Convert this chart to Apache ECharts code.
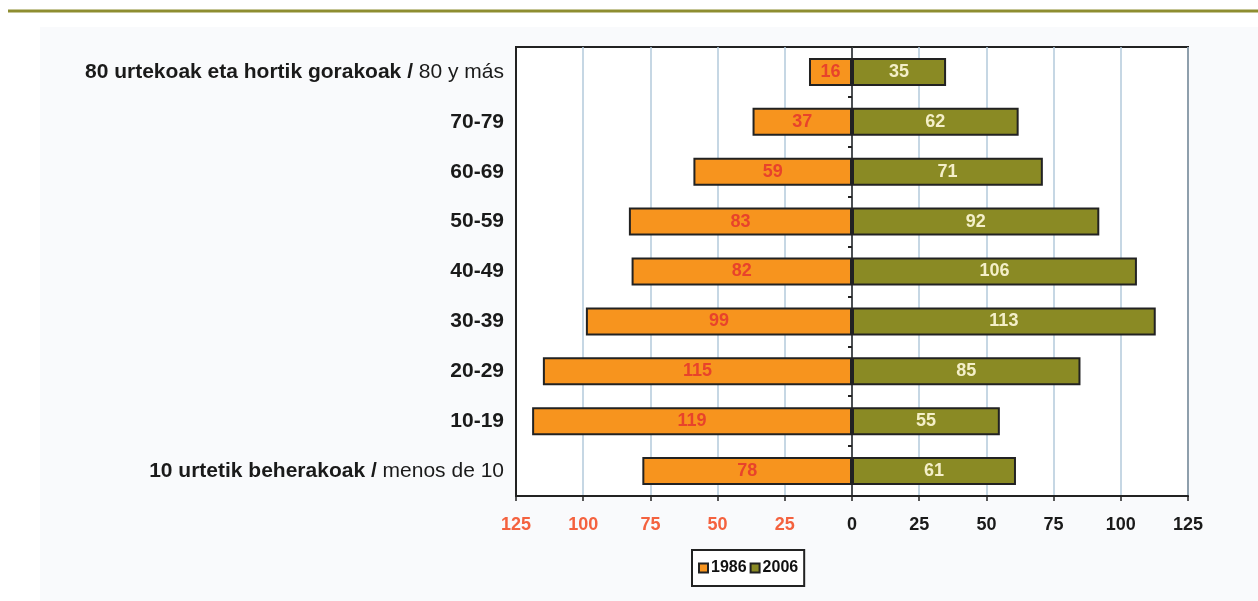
<!DOCTYPE html>
<html>
<head>
<meta charset="utf-8">
<style>html,body{margin:0;padding:0;background:#fff;}#c{width:1258px;height:601px;}</style>
<script src="https://cdn.jsdelivr.net/npm/echarts@6/dist/echarts.min.js"></script>
</head>
<body>
<div id="c"></div>
<script>
// categories from bottom to top
var catBold = ['10 urtetik beherakoak /', '10-19', '20-29', '30-39', '40-49', '50-59', '60-69', '70-79', '80 urtekoak eta hortik gorakoak /'];
var catNormal = ['menos de 10', '', '', '', '', '', '', '', '80 y más'];
var categories = catBold.map(function (b, i) { return b + (catNormal[i] ? ' ' + catNormal[i] : ''); });
var values1986 = [78, 119, 115, 99, 82, 83, 59, 37, 16];
var values2006 = [61, 55, 85, 113, 106, 92, 71, 62, 35];
var seriesNames = ['1986', '2006'];
var xMin = -125, xMax = 125, xStep = 25;

var chart = echarts.init(document.getElementById('c'), null, {renderer: 'canvas'});
var FONT = '"Liberation Sans", Arial, sans-serif';
var NARROW = '"Liberation Sans Narrow", "Liberation Sans", Arial, sans-serif';

chart.setOption({
  animation: false,
  backgroundColor: '#ffffff',
  graphic: [
    {type: 'rect', left: 40, top: 27, shape: {width: 1218, height: 574}, style: {fill: '#f9fafc'}, z: -10, silent: true},
    {type: 'line', shape: {x1: 8, y1: 11, x2: 1258, y2: 11}, style: {stroke: '#8e8d30', lineWidth: 3}, z: -9, silent: true}
  ],
  grid: {left: 516, right: 70, top: 47, bottom: 105, show: true, backgroundColor: '#ffffff', borderColor: '#222', borderWidth: 2, containLabel: false},
  legend: {
    data: seriesNames,
    left: 692, top: 550,
    orient: 'horizontal',
    backgroundColor: '#ffffff',
    borderColor: '#222', borderWidth: 2,
    padding: [10, 6, 10, 6],
    itemGap: 3, itemWidth: 9, itemHeight: 9,
    icon: 'rect',
    textStyle: {fontFamily: FONT, fontWeight: 'bold', fontSize: 16, color: '#111', padding: [0, 0, 0, -2]}
  },
  xAxis: {
    type: 'value', min: xMin, max: xMax, interval: xStep,
    axisLine: {show: true, onZero: false, lineStyle: {color: '#222', width: 2}},
    axisTick: {show: true, length: 5, lineStyle: {color: '#222', width: 1.5}},
    splitLine: {show: true, lineStyle: {color: '#b3cadb', width: 1.5}},
    axisLabel: {
      margin: 20, fontFamily: FONT, fontWeight: 'bold', fontSize: 18,
      formatter: function (v) { return String(Math.abs(v)); },
      color: function (v) { return Number(v) < 0 ? '#f4623f' : '#1a1a1a'; }
    }
  },
  yAxis: [
    {
      type: 'category', data: categories, position: 'left',
      axisLine: {show: true, onZero: false, lineStyle: {color: '#222', width: 2}},
      axisTick: {show: false},
      splitLine: {show: false},
      axisLabel: {
        margin: 12, fontFamily: FONT, fontSize: 21, color: '#1a1a1a',
        formatter: function (v) {
          var idx = categories.indexOf(v);
          var s = '{b|' + catBold[idx] + '}';
          if (catNormal[idx]) s += '{n| ' + catNormal[idx] + '}';
          return s;
        },
        rich: {
          b: {fontFamily: FONT, fontSize: 21, fontWeight: 'bold', color: '#1a1a1a'},
          n: {fontFamily: FONT, fontSize: 21, fontWeight: 'normal', color: '#1a1a1a'}
        }
      }
    },
    {
      type: 'category', data: categories, position: 'left',
      axisLine: {show: true, onZero: true, lineStyle: {color: '#222', width: 1.5}},
      axisTick: {show: true, length: 4, lineStyle: {color: '#222', width: 2}},
      axisLabel: {show: false},
      splitLine: {show: false}
    }
  ],
  series: [
    {
      name: seriesNames[0], type: 'bar', stack: 'p', yAxisIndex: 0, barWidth: 28,
      data: values1986.map(function (v) { return -v; }),
      itemStyle: {color: '#f7941e', borderColor: '#222', borderWidth: 2},
      label: {show: true, position: 'inside', fontFamily: NARROW, fontWeight: 'bold', fontSize: 18, color: '#e8432b',
        formatter: function (p) { return Math.abs(p.value); }}
    },
    {
      name: seriesNames[1], type: 'bar', stack: 'p', yAxisIndex: 0, barWidth: 28,
      data: values2006,
      itemStyle: {color: '#8a8a24', borderColor: '#222', borderWidth: 2},
      label: {show: true, position: 'inside', fontFamily: NARROW, fontWeight: 'bold', fontSize: 18, color: '#f4efc8',
        formatter: function (p) { return p.value; }}
    }
  ]
});
</script>
</body>
</html>
